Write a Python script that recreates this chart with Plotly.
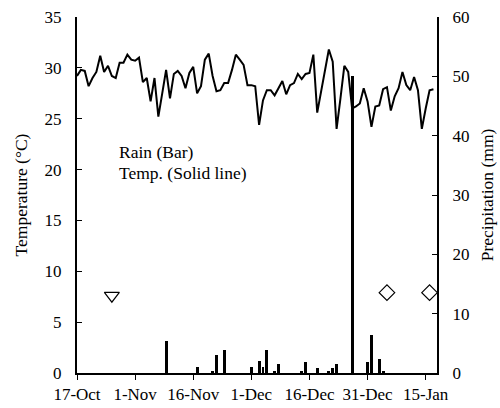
import datetime as dt
import plotly.graph_objects as go

start = dt.date(2012, 10, 17)

# Daily mean temperature (°C), from 17-Oct onwards
temp = [29.2, 29.8, 29.7, 28.2, 29.0, 29.6, 31.2, 29.6, 30.2, 29.2,
        29.0, 30.5, 30.5, 31.3, 30.8, 30.7, 31.0, 28.6, 29.0, 26.7,
        29.0, 25.2, 27.5, 29.8, 27.0, 29.4, 29.7, 29.2, 28.0, 29.5,
        30.1, 27.5, 28.2, 30.8, 31.4, 29.2, 27.7, 27.8, 28.5, 28.5,
        29.8, 31.3, 30.8, 30.3, 28.3, 28.3, 28.2, 24.4, 26.8, 27.8,
        27.8, 27.3, 28.0, 28.7, 27.4, 28.3, 28.5, 29.4, 28.9, 29.4,
        29.5, 31.3, 25.6, 27.7, 29.8, 31.8, 30.6, 24.0, 27.0, 30.2,
        29.6, 26.0, 26.2, 26.5, 28.0, 26.7, 24.2, 26.2, 26.3, 27.9,
        28.1, 25.8, 27.2, 28.0, 29.6, 28.3, 27.8, 29.1, 27.8, 24.0,
        26.0, 27.8, 27.9]
temp_dates = [start + dt.timedelta(days=i) for i in range(len(temp))]

# Rainfall (mm)
rain_dates = ["2012-11-09", "2012-11-17", "2012-11-21", "2012-11-22", "2012-11-24",
              "2012-12-01", "2012-12-03", "2012-12-04", "2012-12-05", "2012-12-07",
              "2012-12-08", "2012-12-14", "2012-12-15", "2012-12-18", "2012-12-21",
              "2012-12-22", "2012-12-23", "2012-12-27", "2012-12-31", "2013-01-01",
              "2013-01-03", "2013-01-04"]
rain_mm = [5.45, 0.95, 0.4, 3.0, 3.9,
           0.95, 2.0, 0.95, 3.9, 0.4,
           1.45, 0.35, 1.85, 0.9, 0.35,
           0.9, 1.45, 50.0, 1.85, 6.4,
           2.4, 0.35]

# Event markers
tri_dates = ["2012-10-26"]
tri_vals = [7.6]
dia_dates = ["2013-01-05", "2013-01-16"]
dia_vals = [7.9, 7.9]

tick_dates = ["2012-10-17", "2012-11-01", "2012-11-16", "2012-12-01",
              "2012-12-16", "2012-12-31", "2013-01-15"]
tick_labels = ["17-Oct", "1-Nov", "16-Nov", "1-Dec", "16-Dec", "31-Dec", "15-Jan"]

FONT = "Liberation Serif"
FS = 17

fig = go.Figure()
fig.add_trace(go.Scatter(x=temp_dates, y=temp, mode="lines",
                         line=dict(color="black", width=2), yaxis="y",
                         showlegend=False))
fig.add_trace(go.Scatter(x=tri_dates, y=tri_vals, mode="markers",
                         marker=dict(symbol="triangle-down-open", size=13,
                                     color="black", line=dict(width=1.2)),
                         yaxis="y", showlegend=False))
fig.add_trace(go.Scatter(x=dia_dates, y=dia_vals, mode="markers",
                         marker=dict(symbol="diamond-open", size=12,
                                     color="black", line=dict(width=1.2)),
                         yaxis="y", showlegend=False, cliponaxis=False))
fig.add_trace(go.Bar(x=rain_dates, y=rain_mm, yaxis="y2",
                     marker=dict(color="black", line=dict(width=0)),
                     width=0.75 * 86400000, showlegend=False))

fig.update_layout(
    width=500, height=408,
    margin=dict(l=77, r=63, t=17, b=35, autoexpand=False),
    paper_bgcolor="white", plot_bgcolor="white",
    font=dict(family=FONT, size=FS, color="black"),
    xaxis=dict(type="date", range=["2012-10-17", "2013-01-17 22:00"],
               tickmode="array", tickvals=tick_dates, ticktext=tick_labels,
               ticks="outside", ticklen=5, tickwidth=1, tickcolor="black",
               showline=True, linewidth=2, linecolor="black",
               showgrid=False, zeroline=False, automargin=False),
    yaxis=dict(range=[0, 35], dtick=5, ticks="inside", ticklen=5, tickwidth=1,
               tickcolor="black", showline=True, linewidth=2, linecolor="black",
               showgrid=False, zeroline=False, automargin=False,
               ticklabelstandoff=10,
               title=dict(text="Temperature (°C)", standoff=12,
                          font=dict(size=17.5))),
    yaxis2=dict(range=[0, 60], dtick=10, overlaying="y", side="right",
                ticks="inside", ticklen=5, tickwidth=1, tickcolor="black",
                showline=True, linewidth=2, linecolor="black",
                showgrid=False, zeroline=False, automargin=False,
                ticklabelstandoff=10,
                title=dict(text="Precipitation (mm)", standoff=12,
                           font=dict(size=17.5))),
    bargap=0,
    annotations=[
        dict(text="Rain (Bar)", xref="paper", yref="paper", x=0.111, y=0.621,
             xanchor="left", yanchor="middle", showarrow=False,
             font=dict(family=FONT, size=17.5)),
        dict(text="Temp. (Solid line)", xref="paper", yref="paper", x=0.111, y=0.562,
             xanchor="left", yanchor="middle", showarrow=False,
             font=dict(family=FONT, size=17.5)),
    ],
)

fig.write_html("out.html", config={"displayModeBar": False},
               post_script="document.body.style.margin='0';")
